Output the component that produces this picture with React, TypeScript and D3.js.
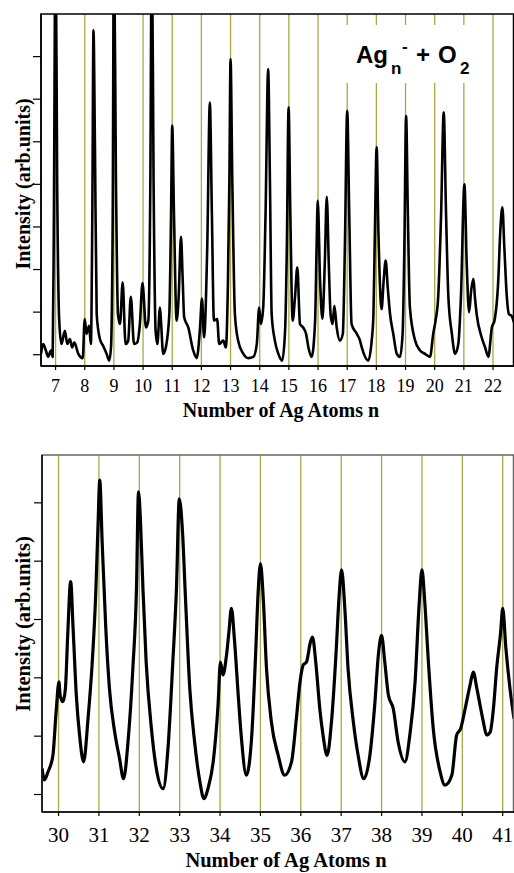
import React from "react";
import * as d3 from "d3";

// ---------- top panel (Ag_n^-, n = 7..22) ----------
const topN = [6.5, 6.575, 6.667, 6.746, 6.84, 6.9, 6.94, 7.0, 7.055, 7.125, 7.2, 7.32, 7.4, 7.49, 7.57, 7.64, 7.78, 7.93, 8.0, 8.06, 8.15, 8.21, 8.26, 8.3, 8.35, 8.41, 8.52, 8.63, 8.75, 8.84, 8.9, 8.96, 9.0, 9.07, 9.14, 9.21, 9.3, 9.4, 9.49, 9.58, 9.69, 9.8, 9.89, 9.98, 10.1, 10.18, 10.25, 10.3, 10.36, 10.43, 10.49, 10.58, 10.62, 10.69, 10.78, 10.9, 10.96, 11.0, 11.06, 11.15, 11.22, 11.3, 11.36, 11.41, 11.55, 11.72, 11.84, 11.95, 12.02, 12.09, 12.2, 12.29, 12.36, 12.43, 12.54, 12.61, 12.75, 12.84, 12.91, 12.96, 13.0, 13.06, 13.15, 13.26, 13.44, 13.61, 13.78, 13.9, 13.98, 14.04, 14.12, 14.2, 14.29, 14.35, 14.41, 14.52, 14.64, 14.77, 14.87, 14.93, 14.99, 15.05, 15.13, 15.21, 15.29, 15.38, 15.49, 15.59, 15.67, 15.78, 15.9, 15.95, 15.99, 16.07, 16.15, 16.23, 16.3, 16.37, 16.43, 16.5, 16.56, 16.64, 16.75, 16.85, 16.92, 17.0, 17.07, 17.15, 17.33, 17.44, 17.5, 17.72, 17.84, 17.9, 17.95, 18.01, 18.07, 18.18, 18.25, 18.32, 18.39, 18.47, 18.58, 18.7, 18.81, 18.9, 18.96, 19.02, 19.08, 19.15, 19.33, 19.5, 19.67, 19.84, 19.95, 20.03, 20.12, 20.22, 20.31, 20.39, 20.47, 20.59, 20.7, 20.81, 20.9, 21.02, 21.1, 21.18, 21.25, 21.33, 21.38, 21.44, 21.61, 21.73, 21.84, 21.96, 22.05, 22.18, 22.25, 22.32, 22.39, 22.47, 22.55, 22.64, 22.72];
const topI = [0.02, 0.25, 0.1, -0.05, 0.1, -0.05, 3.0, 10.0, 4.0, 0.8, 0.25, 0.56, 0.25, 0.37, 0.17, 0.29, 0.02, -0.08, 0.84, 0.49, 0.68, 0.25, 3.3, 7.62, 4.9, 0.95, 0.37, 0.21, 0.02, -0.14, 0.17, 3.3, 10.0, 4.1, 0.95, 0.72, 1.7, 0.25, 0.33, 1.36, 0.25, 0.29, 0.72, 1.68, 0.64, 0.8, 4.1, 10.0, 4.1, 0.56, 0.25, 1.11, 0.72, 0.02, 0.17, 0.95, 3.3, 5.38, 3.3, 0.8, 1.35, 2.77, 1.74, 0.88, 0.64, 0.1, -0.08, 0.6, 1.32, 0.41, 2.5, 5.92, 3.3, 0.8, 0.84, 0.25, 0.33, 0.17, 1.7, 4.1, 6.94, 4.1, 0.95, 0.33, 0.02, -0.08, -0.05, 0.25, 1.11, 0.72, 1.11, 3.3, 6.71, 4.1, 0.95, 0.33, 0.02, -0.14, 0.56, 2.5, 5.81, 3.3, 0.8, 1.35, 2.05, 0.72, 0.64, 0.49, 0.17, -0.05, 0.8, 2.5, 3.62, 1.74, 0.84, 2.1, 3.71, 2.1, 0.95, 0.72, 1.15, 0.64, 0.33, 0.49, 2.5, 5.73, 3.3, 0.72, 0.49, 0.33, 0.17, -0.14, 0.33, 0.95, 2.9, 4.87, 2.9, 1.07, 1.74, 2.21, 1.58, 0.95, 0.49, 0.02, -0.05, 0.49, 2.5, 5.61, 3.3, 1.11, 0.33, 0.1, 0.02, -0.05, 0.49, 0.8, 1.35, 3.3, 5.69, 3.3, 1.35, 0.49, 0.02, 0.25, 1.35, 4.0, 2.1, 1.0, 1.5, 1.78, 1.35, 0.95, 0.41, 0.17, -0.05, 0.64, 0.8, 1.74, 2.9, 3.46, 2.5, 1.4, 0.95, 0.91, 0.76];
const topTicksX = [7, 8, 9, 10, 11, 12, 13, 14, 15, 16, 17, 18, 19, 20, 21, 22];
const topTicksY = [0, 1, 2, 3, 4, 5, 6, 7];

// ---------- bottom panel (n = 30..41) ----------
const botN = [29.59, 29.65, 29.74, 29.86, 29.94, 30.01, 30.04, 30.11, 30.17, 30.23, 30.3, 30.36, 30.44, 30.52, 30.62, 30.73, 30.83, 30.92, 30.98, 31.02, 31.08, 31.17, 31.26, 31.39, 31.51, 31.61, 31.72, 31.84, 31.93, 31.98, 32.03, 32.09, 32.17, 32.3, 32.42, 32.59, 32.71, 32.83, 32.92, 32.99, 33.07, 33.14, 33.25, 33.37, 33.5, 33.6, 33.7, 33.83, 33.95, 34.01, 34.07, 34.16, 34.22, 34.28, 34.36, 34.45, 34.53, 34.65, 34.78, 34.88, 34.94, 35.0, 35.07, 35.15, 35.27, 35.44, 35.6, 35.77, 35.89, 35.98, 36.06, 36.14, 36.24, 36.29, 36.37, 36.47, 36.55, 36.65, 36.76, 36.87, 36.95, 37.01, 37.09, 37.17, 37.3, 37.42, 37.56, 37.71, 37.83, 37.92, 38.0, 38.08, 38.17, 38.29, 38.41, 38.58, 38.7, 38.83, 38.93, 39.0, 39.07, 39.16, 39.28, 39.45, 39.57, 39.74, 39.86, 39.96, 40.07, 40.19, 40.27, 40.36, 40.44, 40.52, 40.6, 40.69, 40.77, 40.85, 40.95, 41.0, 41.08, 41.18, 41.28];
const botI = [0.45, 0.25, 0.39, 0.67, 1.42, 1.93, 1.7, 1.59, 1.82, 2.79, 3.65, 2.85, 1.7, 1.02, 0.56, 1.3, 2.22, 3.42, 4.67, 5.39, 4.33, 2.85, 1.82, 1.07, 0.62, 0.27, 0.9, 2.16, 3.53, 5.19, 4.67, 3.53, 2.27, 1.13, 0.45, 0.1, 0.79, 2.27, 3.53, 5.07, 4.5, 3.42, 1.82, 0.9, 0.22, -0.07, 0.1, 0.56, 1.53, 2.27, 2.05, 2.39, 2.79, 3.19, 2.62, 1.7, 0.96, 0.33, 0.96, 2.39, 3.42, 3.96, 3.36, 2.16, 1.25, 0.67, 0.33, 0.56, 1.3, 1.93, 2.22, 2.27, 2.62, 2.7, 2.27, 1.47, 1.02, 0.67, 1.25, 2.39, 3.42, 3.85, 3.19, 2.16, 1.25, 0.67, 0.27, 0.67, 1.53, 2.39, 2.73, 2.27, 1.7, 1.47, 0.9, 0.56, 1.02, 1.93, 3.25, 3.85, 3.3, 2.27, 1.13, 0.39, 0.16, 0.33, 1.02, 1.13, 1.47, 1.87, 2.1, 1.82, 1.53, 1.25, 1.02, 1.07, 1.47, 2.16, 2.79, 3.19, 2.5, 1.82, 1.3];
const botTicksX = [30, 31, 32, 33, 34, 35, 36, 37, 38, 39, 40, 41];
const botTicksY = [0, 1, 2, 3, 4, 5];

const xLabel = "Number of Ag Atoms n";
const yLabel = "Intensity (arb.units)";

const GRID = "#a9a843";
const SERIF = "'Liberation Serif', 'Times New Roman', serif";
const SANS = "'Liberation Sans', Arial, sans-serif";

type PanelProps = {
  id: string;
  ns: number[];
  is: number[];
  xDomain: [number, number];
  yDomain: [number, number];
  left: number;
  right: number;
  top: number;
  bottom: number;
  ticksX: number[];
  ticksY: number[];
  tickFont: number;
  tickBase: number;
  xLabelX: number;
  xLabelY: number;
  yLabelX: number;
  yLabelY: number;
  labelFont: number;
  stroke: number;
  frame: string;
};

function Panel(p: PanelProps) {
  const x = d3.scaleLinear().domain(p.xDomain).range([p.left, p.right]);
  const y = d3.scaleLinear().domain(p.yDomain).range([p.bottom, p.top]);
  const pts: [number, number][] = p.ns.map((n, i) => [n, p.is[i]]);
  const line = d3
    .line<[number, number]>()
    .x((d) => x(d[0]))
    .y((d) => y(d[1]))
    .curve(d3.curveMonotoneX);
  return (
    <g>
      <defs>
        <clipPath id={p.id}>
          <rect x={p.left} y={p.top} width={p.right - p.left} height={p.bottom - p.top} />
        </clipPath>
      </defs>
      {p.ticksX.map((t) => (
        <line key={"g" + t} x1={x(t)} x2={x(t)} y1={p.top} y2={p.bottom} stroke={GRID} strokeWidth={1.3} />
      ))}
      <path d={line(pts) || ""} fill="none" stroke="#000" strokeWidth={p.stroke} strokeLinejoin="round" clipPath={`url(#${p.id})`} />
      <rect x={p.left} y={p.top} width={p.right - 0.5 - p.left} height={p.bottom - p.top} fill="none" stroke={p.frame} strokeWidth={1.5} />
      <line x1={p.left} x2={p.left} y1={p.top} y2={p.bottom} stroke="#000" strokeWidth={1.5} />
      <line x1={p.left} x2={p.right} y1={p.bottom} y2={p.bottom} stroke="#000" strokeWidth={1.5} />
      {p.ticksY.map((t) => (
        <line key={"y" + t} x1={p.left - 8} x2={p.left} y1={y(t)} y2={y(t)} stroke="#000" strokeWidth={1.2} />
      ))}
      {p.ticksX.map((t) => (
        <g key={"x" + t}>
          <line x1={x(t)} x2={x(t)} y1={p.bottom} y2={p.bottom + 4} stroke="#000" strokeWidth={1.2} />
          <text x={x(t)} y={p.tickBase} textAnchor="middle" fontFamily={SERIF} fontSize={p.tickFont} fill="#000">
            {t}
          </text>
        </g>
      ))}
      <text x={p.xLabelX} y={p.xLabelY} textAnchor="middle" fontFamily={SERIF} fontWeight="bold" fontSize={p.labelFont} fill="#000">
        {xLabel}
      </text>
      <text
        transform={`translate(${p.yLabelX},${p.yLabelY}) rotate(-90)`}
        textAnchor="middle"
        fontFamily={SERIF}
        fontWeight="bold"
        fontSize={p.labelFont}
        fill="#000"
      >
        {yLabel}
      </text>
    </g>
  );
}

export default function App() {
  return (
    <svg width={514} height={873} style={{ position: "absolute", left: 0, top: 0, background: "#fff" }}>
      <rect x={0} y={0} width={514} height={873} fill="#fff" />
      <Panel
        id="clipTop"
        ns={topN}
        is={topI}
        xDomain={[6.5, 22.72]}
        yDomain={[-0.265, 8]}
        left={41}
        right={514}
        top={14}
        bottom={366}
        ticksX={topTicksX}
        ticksY={topTicksY}
        tickFont={18}
        tickBase={392}
        xLabelX={281}
        xLabelY={417}
        yLabelX={30}
        yLabelY={184}
        labelFont={20}
        stroke={2.6}
        frame="#000"
      />
      <rect x={340} y={25} width={140} height={58} fill="#fff" />
      <g fontFamily={SANS} fontWeight="bold" fill="#000">
        <text x={356} y={63} fontSize={24}>Ag</text>
        <text x={391} y={74} fontSize={17}>n</text>
        <text x={402} y={52} fontSize={17}>-</text>
        <text x={416} y={63} fontSize={24}>+</text>
        <text x={438} y={63} fontSize={24}>O</text>
        <text x={460} y={74} fontSize={17}>2</text>
      </g>
      <Panel
        id="clipBot"
        ns={botN}
        is={botI}
        xDomain={[29.59, 41.28]}
        yDomain={[-0.3, 5.82]}
        left={42}
        right={514}
        top={455}
        bottom={812}
        ticksX={botTicksX}
        ticksY={botTicksY}
        tickFont={21}
        tickBase={842}
        xLabelX={286}
        xLabelY={867}
        yLabelX={30}
        yLabelY={624}
        labelFont={20.5}
        stroke={3.2}
        frame="#666"
      />
    </svg>
  );
}
